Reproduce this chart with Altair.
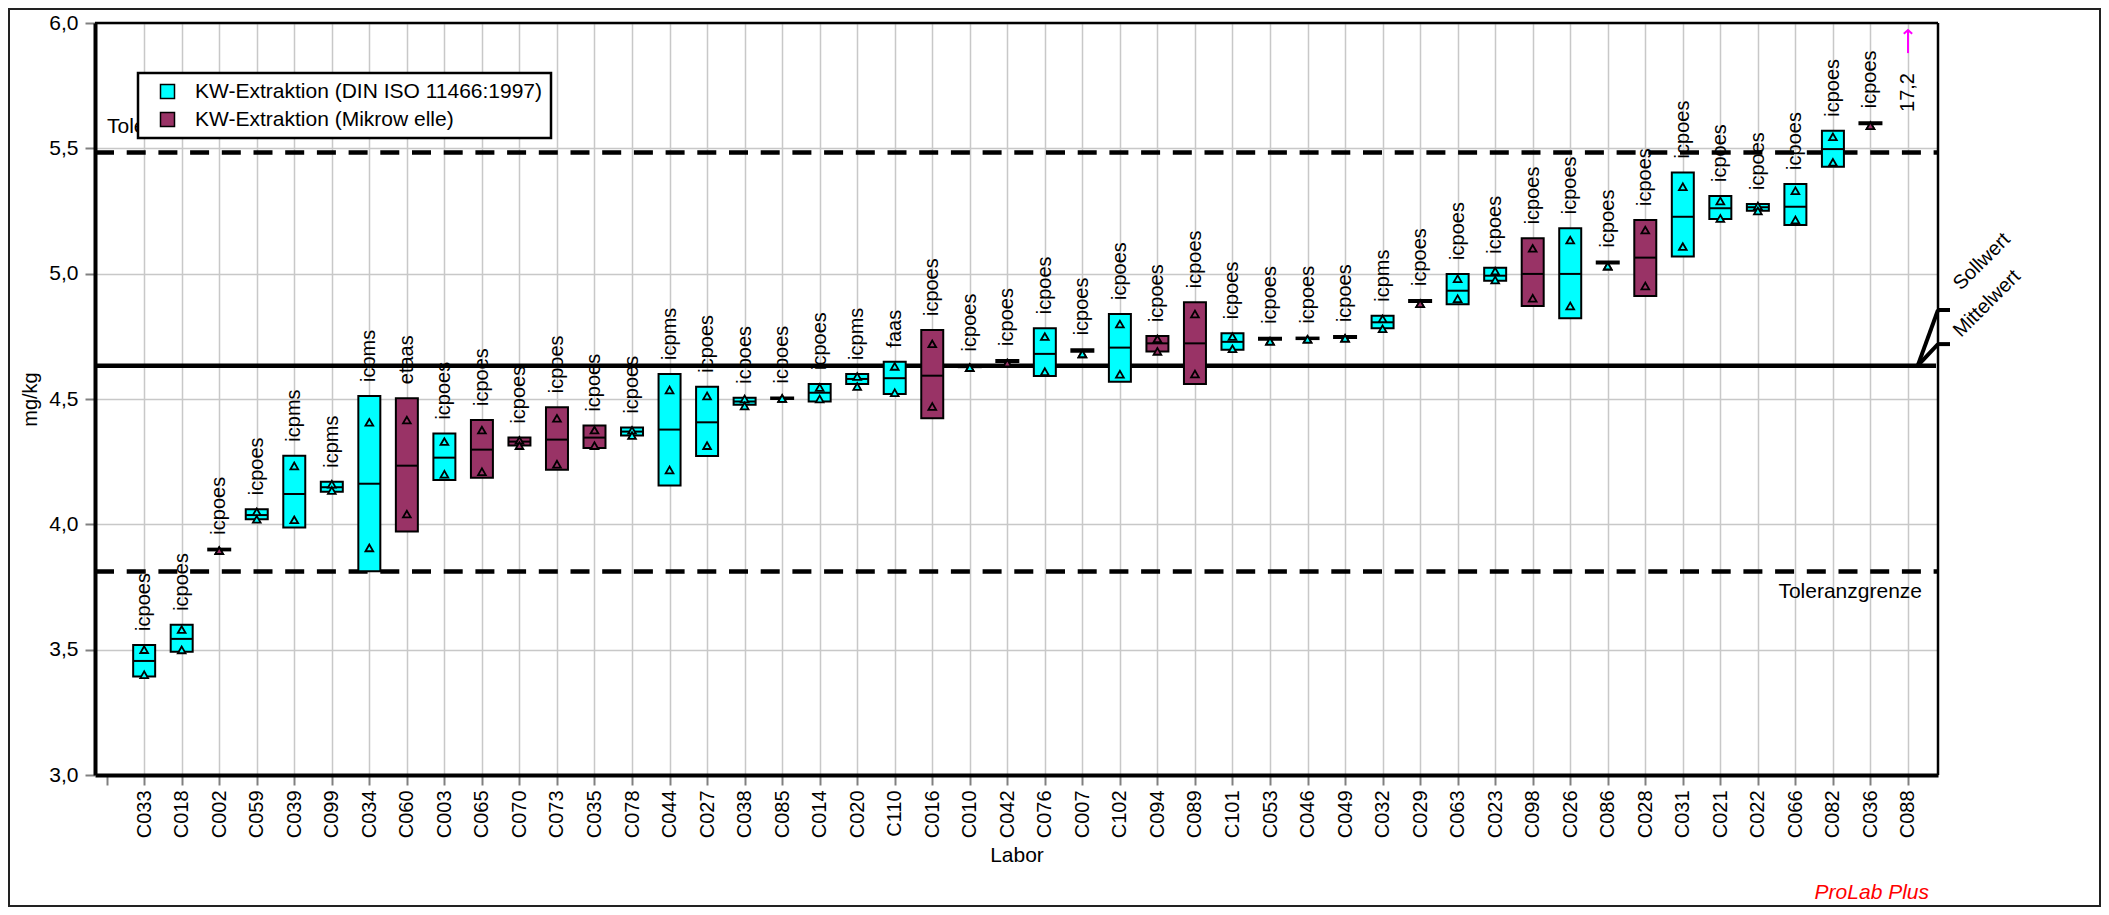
import json
import altair as alt
import pandas as pd

# ---------------- data ----------------
labs = ["C033", "C018", "C002", "C059", "C039", "C099", "C034", "C060", "C003", "C065",
        "C070", "C073", "C035", "C078", "C044", "C027", "C038", "C085", "C014", "C020",
        "C110", "C016", "C010", "C042", "C076", "C007", "C102", "C094", "C089", "C101",
        "C053", "C046", "C049", "C032", "C029", "C063", "C023", "C098", "C026", "C086",
        "C028", "C031", "C021", "C022", "C066", "C082", "C036", "C088"]
methods = ["icpoes", "icpoes", "icpoes", "icpoes", "icpms", "icpms", "icpms", "etaas", "icpoes", "icpoes",
           "icpoes", "icpoes", "icpoes", "icpoes", "icpms", "icpoes", "icpoes", "icpoes", "icpoes", "icpms",
           "faas", "icpoes", "icpoes", "icpoes", "icpoes", "icpoes", "icpoes", "icpoes", "icpoes", "icpoes",
           "icpoes", "icpoes", "icpoes", "icpms", "icpoes", "icpoes", "icpoes", "icpoes", "icpoes", "icpoes",
           "icpoes", "icpoes", "icpoes", "icpoes", "icpoes", "icpoes", "icpoes", ""]
groups = ["D", "D", "M", "D", "D", "D", "D", "M", "D", "M",
          "M", "M", "M", "D", "D", "D", "D", "D", "D", "D",
          "D", "M", "D", "M", "D", "D", "D", "M", "M", "D",
          "D", "D", "D", "D", "M", "D", "D", "M", "D", "D",
          "M", "D", "D", "D", "D", "D", "M", "D"]
box_lo = [3.393, 3.492, 3.896, 4.020, 3.987, 4.130, 3.813, 3.971, 4.177, 4.186,
          4.314, 4.218, 4.305, 4.354, 4.155, 4.273, 4.477, 4.500, 4.490, 4.560,
          4.520, 4.423, 4.627, 4.648, 4.592, 4.688, 4.569, 4.689, 4.560, 4.696,
          4.736, 4.739, 4.743, 4.782, 4.887, 4.878, 4.972, 4.871, 4.822, 5.041,
          4.911, 5.068, 5.218, 5.251, 5.194, 5.427, 5.596, None]
box_hi = [3.519, 3.599, 3.903, 4.060, 4.274, 4.170, 4.512, 4.503, 4.362, 4.416,
          4.346, 4.467, 4.394, 4.386, 4.600, 4.549, 4.505, 4.506, 4.560, 4.600,
          4.649, 4.775, 4.634, 4.656, 4.782, 4.698, 4.839, 4.751, 4.886, 4.762,
          4.744, 4.745, 4.751, 4.832, 4.895, 4.999, 5.024, 5.141, 5.181, 5.049,
          5.214, 5.404, 5.310, 5.278, 5.358, 5.570, 5.604, None]
box_mid = [3.455, 3.543, 3.899, 4.037, 4.121, 4.148, 4.162, 4.234, 4.266, 4.298,
           4.330, 4.338, 4.346, 4.370, 4.378, 4.407, 4.490, 4.503, 4.525, 4.580,
           4.583, 4.593, 4.631, 4.652, 4.680, 4.693, 4.705, 4.722, 4.722, 4.728,
           4.740, 4.742, 4.747, 4.806, 4.891, 4.932, 4.992, 4.999, 4.999, 5.045,
           5.064, 5.227, 5.261, 5.265, 5.267, 5.497, 5.600, None]
val_a = [3.500, 3.580, 3.895, 4.050, 4.233, 4.160, 4.407, 4.416, 4.330, 4.376,
         4.335, 4.423, 4.376, 4.375, 4.536, 4.512, 4.500, 4.502, 4.546, 4.590,
         4.630, 4.720, 4.625, 4.643, 4.749, 4.680, 4.799, 4.740, 4.839, 4.749,
         4.730, 4.738, 4.742, 4.820, 4.880, 4.980, 5.010, 5.101, 5.134, 5.030,
         5.174, 5.347, 5.290, 5.270, 5.331, 5.546, 5.590, None]
val_b = [3.400, 3.499, 3.895, 4.020, 4.018, 4.135, 3.906, 4.041, 4.200, 4.210,
         4.314, 4.240, 4.314, 4.354, 4.217, 4.314, 4.472, 4.502, 4.500, 4.550,
         4.525, 4.470, 4.625, 4.643, 4.609, 4.680, 4.599, 4.690, 4.600, 4.700,
         4.730, 4.738, 4.742, 4.780, 4.880, 4.900, 4.975, 4.902, 4.871, 5.030,
         4.951, 5.108, 5.220, 5.250, 5.214, 5.444, 5.590, None]
c088_value = 17.2

y_ticks = [3.0, 3.5, 4.0, 4.5, 5.0, 5.5, 6.0]
upper_tol = 5.483
lower_tol = 3.812
mean_val = 4.633
legend_names = {"D": "KW-Extraktion (DIN ISO 11466:1997)", "M": "KW-Extraktion (Mikrow elle)"}

# ---------------- layout constants ----------------
W, H = 1843, 752
FONT = "Liberation Sans, Arial, Helvetica, sans-serif"
CYAN = "#00ffff"
MAROON = "#993366"
HALF = 0.293  # half box width in category units

rows = []
for i, lab in enumerate(labs):
    rows.append(dict(idx=i + 1, lab=lab, method=methods[i], grp=groups[i],
                     grp_label=legend_names[groups[i]],
                     lo=box_lo[i], hi=box_hi[i], mid=box_mid[i], a=val_a[i], b=val_b[i]))
df = pd.DataFrame(rows)
dfb = df[df["lo"].notna()].copy()
dfb["xl"] = dfb["idx"] - HALF
dfb["xr"] = dfb["idx"] + HALF
pts = pd.concat([
    dfb[["idx", "grp", "a"]].rename(columns={"a": "v"}),
    dfb[["idx", "grp", "b"]].rename(columns={"b": "v"}),
])

x_scale = alt.Scale(domain=[-0.31, 48.8], nice=False, zero=False)
y_scale = alt.Scale(domain=[3.0, 6.0], nice=False, zero=False)

label_array = json.dumps([""] + labs)
x_axis = alt.Axis(
    values=list(range(len(labs) + 1)),
    labelExpr=f"{label_array}[datum.value]",
    labelAngle=270, labelFontSize=20, labelFont=FONT, labelColor="black",
    labelFlush=False, labelOverlap=False, labelPadding=5, labelBound=False,
    tickSize=10, tickColor="#808080", tickWidth=2,
    domainColor="black", domainWidth=4,
    grid=True, gridColor="#c8c8c8", gridWidth=1.5,
    gridOpacity={"condition": {"test": "datum.value == 0", "value": 0}, "value": 1},
    title="Labor", titleFont=FONT, titleFontSize=21, titleFontWeight="normal",
    titleColor="black", titleY=80, titleBaseline="middle",
)
y_axis = alt.Axis(
    values=y_ticks,
    labelExpr="replace(format(datum.value, '.1f'), '.', ',')",
    labelFontSize=21, labelFont=FONT, labelColor="black", labelPadding=7,
    tickSize=10, tickColor="#808080", tickWidth=2,
    domainColor="black", domainWidth=4,
    grid=True, gridColor="#c8c8c8", gridWidth=1.5,
    title="mg/kg", titleFont=FONT, titleFontSize=20, titleFontWeight="normal",
    titleColor="black", titleAngle=270, titleX=-65, titleY=376,
    titleAlign="center", titleBaseline="middle",
)


def X(field):
    return alt.X(field, type="quantitative", scale=x_scale, axis=x_axis)


def Y(field):
    return alt.Y(field, type="quantitative", scale=y_scale, axis=y_axis)


lines_df = pd.DataFrame({"v": [upper_tol, lower_tol], "kind": ["tol", "tol"]})
dashed = alt.Chart(lines_df).mark_rule(color="black", strokeWidth=4.5, strokeDash=[19, 12.7]).encode(
    y=Y("v"), x=alt.value(0), x2=alt.value(W))
mean_line = alt.Chart(pd.DataFrame({"v": [mean_val]})).mark_rule(color="black", strokeWidth=4.5).encode(
    y=Y("v"), x=alt.value(0), x2=alt.value(W - 2))

boxes = alt.Chart(dfb).mark_rect(stroke="black", strokeWidth=2).encode(
    x=X("xl"), x2="xr", y=Y("lo"), y2="hi",
    fill=alt.Fill("grp_label:N",
                  scale=alt.Scale(domain=[legend_names["D"], legend_names["M"]], range=[CYAN, MAROON]),
                  legend=alt.Legend(title=None, orient="none", legendX=43, legendY=50,
                                    symbolType="square", symbolSize=196,
                                    symbolStrokeColor="black", symbolStrokeWidth=1.5,
                                    labelFont=FONT, labelFontSize=21, labelColor="black",
                                    labelLimit=600, labelOffset=17, rowPadding=6,
                                    padding=8, symbolOffset=11,
                                    fillColor="white", strokeColor="black")),
)
mids = alt.Chart(dfb).mark_rule(color="black", strokeWidth=2).encode(
    x=X("xl"), x2="xr", y=Y("mid"))
tris = alt.Chart(pts).mark_point(shape="triangle-up", filled=True, size=60, stroke="black",
                                 strokeWidth=1.8, opacity=1).encode(
    x=X("idx"), y=Y("v"),
    fill=alt.condition("datum.grp == 'D'", alt.value(CYAN), alt.value(MAROON)))
method_txt = alt.Chart(dfb).mark_text(angle=270, align="left", baseline="middle", dx=14,
                                      fontSize=20, font=FONT, color="black").encode(
    x=X("idx"), y=Y("hi"), text="method:N")

# off-scale lab C088
off_df = pd.DataFrame({"idx": [len(labs)], "y0": [5.88], "y1": [5.972], "ylab": [5.645],
                       "txt": [f"{c088_value:.1f}".replace(".", ",")]})
arrow_line = alt.Chart(off_df).mark_rule(color="#ff00ff", strokeWidth=2).encode(
    x=X("idx"), y=Y("y0"), y2="y1")
arrow_head = alt.Chart(off_df).mark_point(shape="M-1,0.9L0,0L1,0.9", filled=False, size=70,
                                          stroke="#ff00ff", strokeWidth=2, opacity=1).encode(
    x=X("idx"), y=Y("y1"))
off_txt = alt.Chart(off_df).mark_text(angle=270, align="left", baseline="middle",
                                      fontSize=20, font=FONT, color="black").encode(
    x=X("idx"), y=Y("ylab"), text="txt:N")

# tolerance labels
tol_up = alt.Chart(pd.DataFrame({"v": [upper_tol], "t": ["Toleranzgrenze"]})).mark_text(
    align="left", baseline="middle", dy=-26, fontSize=21, font=FONT, color="black").encode(
    x=alt.value(12), y=Y("v"), text="t:N")
tol_lo = alt.Chart(pd.DataFrame({"v": [lower_tol], "t": ["Toleranzgrenze"]})).mark_text(
    align="right", baseline="middle", dy=21, fontSize=21, font=FONT, color="black").encode(
    x=alt.value(W - 16), y=Y("v"), text="t:N")

# Sollwert / Mittelwert leaders
seg_df = pd.DataFrame({
    "x1": [48.26, 48.8, 48.26, 48.8],
    "y1": [mean_val, 4.855, mean_val, 4.719],
    "x2": [48.8, 49.12, 48.8, 49.12],
    "y2": [4.855, 4.855, 4.719, 4.719],
})
leaders = alt.Chart(seg_df).mark_rule(color="black", strokeWidth=4).encode(
    x=X("x1"), y=Y("y1"), x2="x2", y2="y2")
ref_txt_df = pd.DataFrame({"x": [49.41, 49.41], "y": [4.931, 4.743], "t": ["Sollwert", "Mittelwert"]})
ref_txt = alt.Chart(ref_txt_df).mark_text(angle=315, align="left", baseline="alphabetic",
                                          fontSize=20, font=FONT, color="black").encode(
    x=X("x"), y=Y("y"), text="t:N")

one = pd.DataFrame({"k": [0]})
brand = alt.Chart(one).mark_text(align="right", baseline="middle", fontSize=21, font=FONT,
                                 fontStyle="italic", color="#ff0000", text="ProLab Plus").encode(
    x=alt.value(W - 9), y=alt.value(870))
top_border = alt.Chart(one).mark_rule(color="black", strokeWidth=2.5).encode(
    x=alt.value(0), x2=alt.value(W), y=alt.value(0))
right_border = alt.Chart(one).mark_rule(color="black", strokeWidth=2.5).encode(
    x=alt.value(W), y=alt.value(0), y2=alt.value(H))
frame = alt.Chart(one).mark_rect(filled=False, stroke="#222222", strokeWidth=2).encode(
    x=alt.value(-86), x2=alt.value(W + 162), y=alt.value(-14), y2=alt.value(H + 131))

chart = alt.layer(
    dashed, mean_line, boxes, mids, tris, method_txt,
    arrow_line, arrow_head, off_txt, tol_up, tol_lo, leaders, ref_txt,
    brand, top_border, right_border, frame,
).properties(
    width=W, height=H,
    padding={"left": 87, "top": 15, "right": 163, "bottom": 132},
    autosize=alt.AutoSizeParams(type="none"),
    background="white",
).configure_view(stroke="transparent").configure_legend(strokeWidth=2.5)

chart.save("out.html", embed_options={"renderer": "svg", "actions": False})
